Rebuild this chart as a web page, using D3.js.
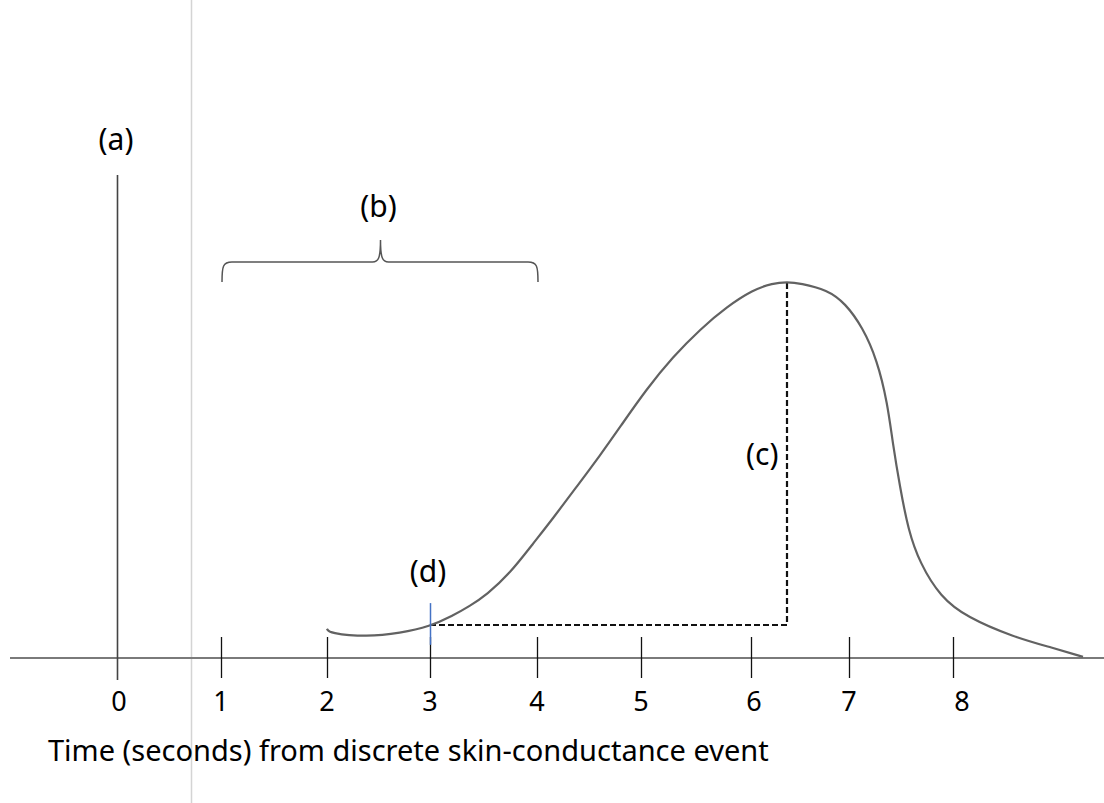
<!DOCTYPE html>
<html>
<head>
<meta charset="utf-8">
<script src="https://cdn.jsdelivr.net/npm/d3@7"></script>
<style>
  html, body { margin: 0; padding: 0; background: #fff; }
  svg { display: block; }
  text { font-family: "Noto Sans", "Open Sans", sans-serif; fill: #000; }
</style>
</head>
<body>
<svg id="chart" width="1104" height="803"></svg>
<script>
// ---- data ----
const tickValues = [0, 1, 2, 3, 4, 5, 6, 7, 8];
const tickLabels = ["0", "1", "2", "3", "4", "5", "6", "7", "8"];
// skin conductance response (normalised, peak = 1)
const timeSec = [2.00, 2.02, 2.39, 2.71, 3.00, 3.21, 3.37, 3.53, 3.75, 3.96, 4.15, 4.38, 4.61, 4.80, 5.05, 5.29, 5.54, 5.78, 6.02, 6.22, 6.37, 6.50, 6.78, 6.96, 7.13, 7.27, 7.37, 7.42, 7.49, 7.57, 7.68, 7.88, 8.13, 8.58, 8.96, 9.25];
const response = [0.078, 0.066, 0.056, 0.066, 0.084, 0.112, 0.138, 0.168, 0.226, 0.303, 0.370, 0.455, 0.540, 0.615, 0.715, 0.801, 0.875, 0.934, 0.979, 0.997, 1.000, 0.997, 0.979, 0.944, 0.880, 0.793, 0.678, 0.572, 0.455, 0.340, 0.253, 0.162, 0.109, 0.056, 0.027, 0.003];
const annotations = ["(a)", "(b)", "(c)", "(d)"];
const eventTime = 0;          // (a) discrete event
const windowStart = 1, windowEnd = 4;   // (b) latency window
const onsetTime = 3, onsetLevel = 0.085; // (d) onset
const peakTime = 6.37, peakLevel = 1.0;  // (c) amplitude
const axisTitle = "Time (seconds) from discrete skin-conductance event";

// ---- scales ----
const x = d3.scaleLinear()
  .domain([0, 1, 2, 3, 4, 5, 6, 7, 8, 9])
  .range([117, 221, 327, 430, 537, 641, 751, 849, 953, 1057]);
const y = d3.scaleLinear().domain([0, 1]).range([658, 282]);

const svg = d3.select("#chart");

// light vertical separator
svg.append("line")
  .attr("x1", 191.5).attr("x2", 191.5).attr("y1", 0).attr("y2", 803)
  .attr("stroke", "#d4d4d4").attr("stroke-width", 1.5);

// baseline axis
svg.append("line")
  .attr("x1", 10).attr("x2", 1104).attr("y1", y(0)).attr("y2", y(0))
  .attr("stroke", "#7a7a7a").attr("stroke-width", 2);

// ticks
svg.selectAll("line.tick").data(tickValues.filter(d => d !== eventTime)).enter()
  .append("line").attr("class", "tick")
  .attr("x1", d => Math.round(x(d)) + 0.5).attr("x2", d => Math.round(x(d)) + 0.5)
  .attr("y1", y(0) - 21).attr("y2", y(0) + 20)
  .attr("stroke", "#111").attr("stroke-width", 1.3);

// tick labels
svg.selectAll("text.tl").data(tickValues).enter()
  .append("text").attr("class", "tl")
  .attr("x", d => x(d) + (d === 8 ? 9 : d === 6 ? 3 : d === 0 ? 2 : 0))
  .attr("y", 711)
  .attr("text-anchor", "middle")
  .attr("font-size", 27)
  .text((d, i) => tickLabels[i]);

// axis title
svg.append("text")
  .attr("x", 48).attr("y", 761)
  .attr("font-size", 29)
  .text(axisTitle);

// (a) event line
svg.append("line")
  .attr("x1", x(eventTime) + 0.5).attr("x2", x(eventTime) + 0.5)
  .attr("y1", 175).attr("y2", y(0) + 22)
  .attr("stroke", "#444").attr("stroke-width", 1.6);
svg.append("text")
  .attr("x", x(eventTime) - 1).attr("y", 150)
  .attr("text-anchor", "middle").attr("font-size", 30)
  .text(annotations[0]);

// (b) brace
const bx0 = x(windowStart) + 1, bx1 = x(windowEnd) + 1, bm = x((windowStart + windowEnd) / 2) + 2;
const yBot = 282, yMid = 262, yTip = 240;
const brace = d3.path();
brace.moveTo(bx0, yBot);
brace.bezierCurveTo(bx0, yMid + 4, bx0 + 1, yMid, bx0 + 10, yMid);
brace.lineTo(bm - 8, yMid);
brace.bezierCurveTo(bm - 2, yMid, bm, yMid - 4, bm, yTip);
brace.bezierCurveTo(bm, yMid - 4, bm + 2, yMid, bm + 8, yMid);
brace.lineTo(bx1 - 10, yMid);
brace.bezierCurveTo(bx1 - 1, yMid, bx1, yMid + 4, bx1, yBot);
svg.append("path").attr("d", brace.toString())
  .attr("fill", "none").attr("stroke", "#555").attr("stroke-width", 1.5);
svg.append("text")
  .attr("x", bm - 2).attr("y", 217)
  .attr("text-anchor", "middle").attr("font-size", 30)
  .text(annotations[1]);

// dashed amplitude guides
const dx = Math.round(x(peakTime)), dy = Math.round(y(onsetLevel)) - 1;
svg.append("path")
  .attr("d", `M${x(onsetTime)},${dy}H${dx}V${y(peakLevel)}`)
  .attr("fill", "none").attr("stroke", "#111").attr("stroke-width", 2.2)
  .attr("stroke-dasharray", "6,3");
svg.append("text")
  .attr("x", x(peakTime) - 25).attr("y", 465)
  .attr("text-anchor", "middle").attr("font-size", 30)
  .text(annotations[2]);

// response curve
const pts = timeSec.map((t, i) => [t, response[i]]);
const line = d3.line().x(d => x(d[0])).y(d => y(d[1])).curve(d3.curveBasis);
svg.append("path").datum(pts)
  .attr("d", line)
  .attr("fill", "none").attr("stroke", "#626262").attr("stroke-width", 2.2);

// (d) onset marker
svg.append("line")
  .attr("x1", x(onsetTime) + 0.5).attr("x2", x(onsetTime) + 0.5)
  .attr("y1", y(0.146)).attr("y2", y(0.035))
  .attr("stroke", "#4472C4").attr("stroke-width", 1.5);
svg.append("text")
  .attr("x", x(onsetTime) - 2).attr("y", 582)
  .attr("text-anchor", "middle").attr("font-size", 30)
  .text(annotations[3]);
</script>
</body>
</html>
